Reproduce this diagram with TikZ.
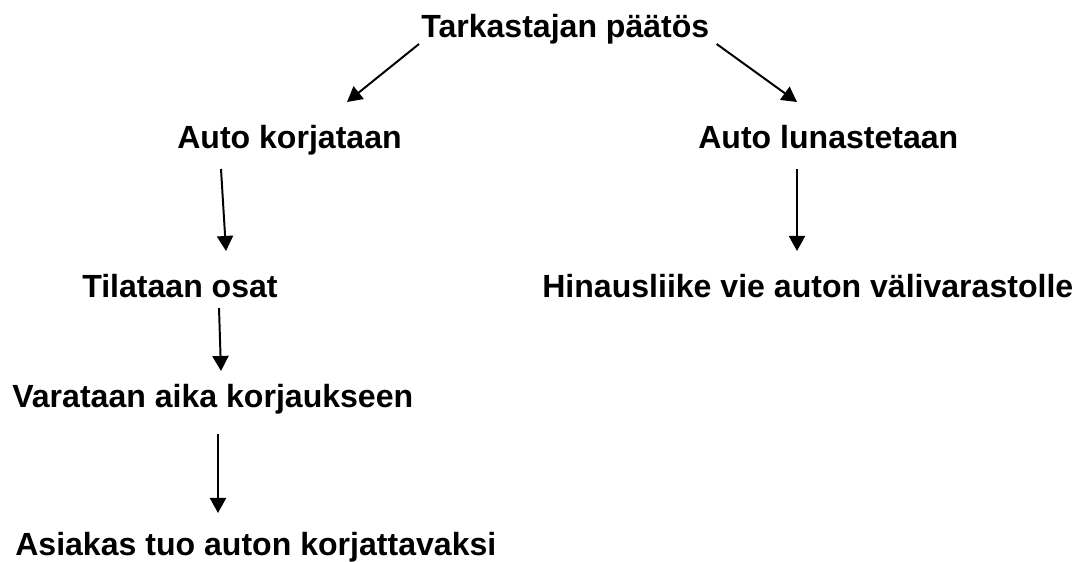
\documentclass[tikz,border=0pt]{standalone}
\usepackage{fontspec}
\setmainfont{Liberation Sans}
\usetikzlibrary{arrows.meta}

\begin{document}
\begin{tikzpicture}[x=0.025cm, y=-0.025cm,
        teksti/.style={anchor=base west, inner sep=0pt, font=\fontsize{22.8}{27}\selectfont\bfseries},
        nuoli/.style={line width=1.4pt, -{Triangle[width=11.4pt, length=10.7pt]}}]
                \useasboundingbox (0,0) rectangle (1080,561);

                % Tekstit
                \node[teksti] (paatos) at (421,37) {Tarkastajan päätös};
                \node[teksti] (korjataan) at (177,148) {Auto korjataan};
                \node[teksti] (lunastetaan) at (698,148) {Auto lunastetaan};
                \node[teksti] (osat) at (82,297) {Tilataan osat};
                \node[teksti] (hinaus) at (542,297) {Hinausliike vie auton välivarastolle};
                \node[teksti] (aika) at (12,407) {Varataan aika korjaukseen};
                \node[teksti] (asiakas) at (15,555) {Asiakas tuo auton korjattavaksi};

                % Nuolet
                \draw[nuoli] ([shift={(-2,7)}]paatos.base west) -- ([shift={(170,-46)}]korjataan.base west);
                \draw[nuoli] ([shift={(7,7)}]paatos.base east) -- ([shift={(99,-46)}]lunastetaan.base west);
                \draw[nuoli] ([shift={(44,21)}]korjataan.base west) -- ([shift={(144,-46)}]osat.base west);
                \draw[nuoli] ([shift={(99,21)}]lunastetaan.base west) -- ([shift={(255,-46)}]hinaus.base west);
                \draw[nuoli] ([shift={(137,11)}]osat.base west) -- ([shift={(209,-36)}]aika.base west);
                \draw[nuoli] ([shift={(206,27)}]aika.base west) -- ([shift={(203,-42)}]asiakas.base west);
            \end{tikzpicture}
\end{document}
